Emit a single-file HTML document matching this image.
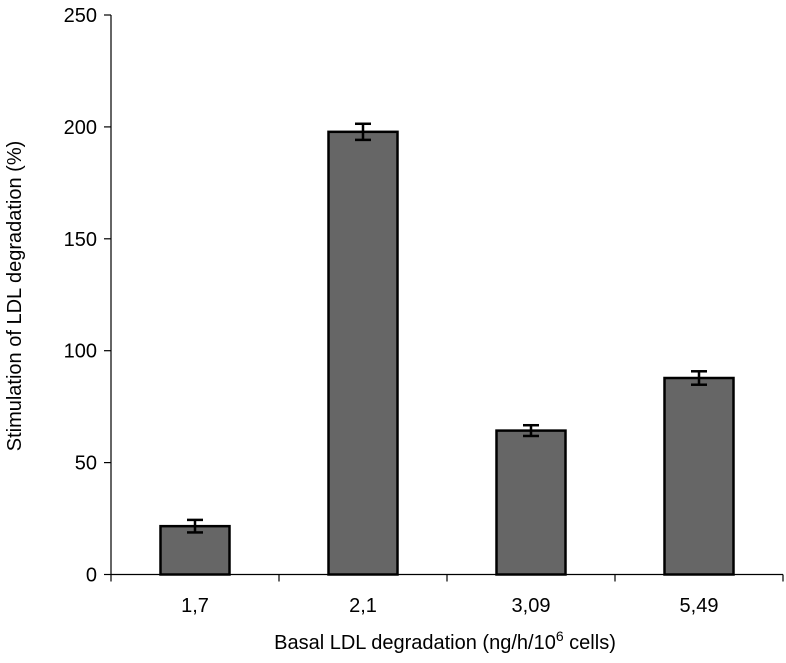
<!DOCTYPE html>
<html><head><meta charset="utf-8"><style>
body{margin:0;background:#fff;}
svg text{font-family:"Liberation Sans",sans-serif;fill:#000;}
</style></head><body>
<svg id="chart" width="786" height="658" xmlns="http://www.w3.org/2000/svg"></svg>
<script>
const categories = ["1,7","2,1","3,09","5,49"];
const values = [21.6, 197.8, 64.3, 87.8];
const errors = [2.8, 3.6, 2.4, 3.0];
const yTicks = [0,50,100,150,200,250];

const svg = document.getElementById('chart');
const NS = 'http://www.w3.org/2000/svg';
const x0 = 111, x1 = 783, y0 = 574.5, y250 = 15;
const yScale = v => y0 - (v/250)*(y0-y250);
const bandW = (x1-x0)/categories.length;
const xCenter = i => x0 + bandW*(i+0.5);
const barW = 69;
function mk(tag, attrs){const e=document.createElementNS(NS,tag);for(const k in attrs)e.setAttribute(k,attrs[k]);svg.appendChild(e);return e;}

let ax = mk('line',{x1:x0,y1:y250,x2:x0,y2:y0,stroke:'#000','stroke-width':1.2});


let bx = mk('line',{x1:x0,y1:y0,x2:x1,y2:y0,stroke:'#000','stroke-width':1.2});



yTicks.forEach(t=>{
  const y=yScale(t);
  const l=mk('line',{x1:x0-7,y1:y,x2:x0,y2:y,stroke:'#000','stroke-width':1.2});
  
  
  const tx=mk('text',{x:x0-14,y:y+7,'text-anchor':'end','font-size':20});
  tx.textContent=t;
  
  
});
for(let i=0;i<=categories.length;i++){
  const x=x0+bandW*i;
  const l=mk('line',{x1:x,y1:y0,x2:x,y2:y0+7,stroke:'#000','stroke-width':1.2});
  
  
}
categories.forEach((c,i)=>{
  const cx=xCenter(i), v=values[i], e=errors[i];
  const r=mk('rect',{x:cx-barW/2,y:yScale(v),width:barW,height:y0-yScale(v),fill:'#666',stroke:'#000','stroke-width':2.5});
  
  
  const g=[[cx,yScale(v+e),cx,yScale(v-e)],[cx-8,yScale(v+e),cx+8,yScale(v+e)],[cx-8,yScale(v-e),cx+8,yScale(v-e)]];
  g.forEach(p=>{
    const l=mk('line',{x1:p[0],y1:p[1],x2:p[2],y2:p[3],stroke:'#000','stroke-width':2.5});
    
    
  });
  const t=mk('text',{x:cx,y:612,'text-anchor':'middle','font-size':20});
  t.textContent=c;
  
  
});
const xt=mk('text',{x:445,y:649,'text-anchor':'middle','font-size':20});
xt.innerHTML='Basal LDL degradation (ng/h/10<tspan dy="-8" font-size="14">6</tspan><tspan dy="8"> cells)</tspan>';


const yt=mk('text',{x:0,y:0,'text-anchor':'middle','font-size':20,transform:'translate(21,296) rotate(-90)'});
yt.textContent='Stimulation of LDL degradation (%)';


</script>
</body></html>
